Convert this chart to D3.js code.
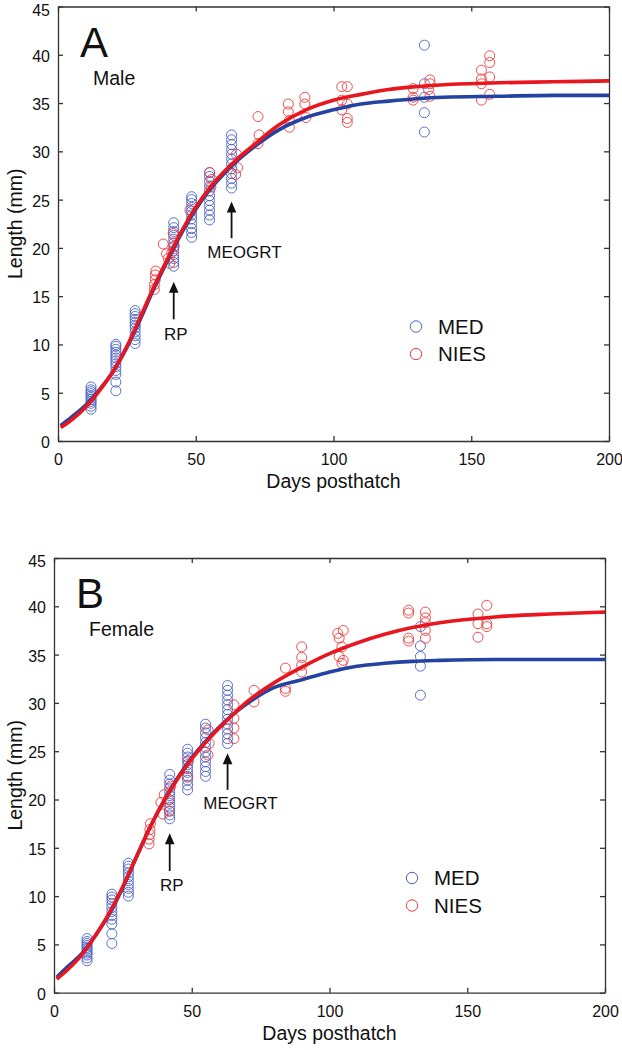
<!DOCTYPE html>
<html>
<head>
<meta charset="utf-8">
<script src="https://cdn.jsdelivr.net/npm/d3@7"></script>
<style>
  body { margin: 0; background: #fff; }
  svg { display: block; font-family: "Liberation Sans", Arial, sans-serif; }
  .axis text { font-size: 16px; fill: #111; }
  .axis path, .axis line { stroke: #333; stroke-width: 1.3; }
  .axis-title { font-size: 19.5px; fill: #111; }
  .annot { font-size: 17px; fill: #111; }
  .legend text { font-size: 20.5px; fill: #111; }
</style>
</head>
<body>
<svg></svg>
<script>
const WIDTH = 622, HEIGHT = 1050;

// fitted growth curves
const curveDays = [1, 5, 10, 15, 20, 25, 30, 35, 40, 45, 50, 55, 60, 65, 70, 80, 90, 100, 110, 120, 130, 140, 160, 180, 200];
const maleMedFit = [1.6, 2.5, 3.7, 5.3, 7.2, 9.7, 12.7, 15.9, 18.8, 21.6, 24.0, 26.0, 27.6, 29.0, 30.2, 32.2, 33.5, 34.3, 34.9, 35.2, 35.45, 35.6, 35.7, 35.8, 35.8];
const maleNiesFit = [1.4, 2.2, 3.5, 5.2, 7.2, 9.8, 12.9, 16.1, 19.0, 21.8, 24.2, 26.2, 27.8, 29.2, 30.4, 32.7, 34.3, 35.3, 35.9, 36.4, 36.7, 36.9, 37.1, 37.2, 37.3];
const femaleMedFit = [1.6, 2.7, 4.0, 5.9, 8.1, 10.9, 14.1, 17.2, 19.9, 22.3, 24.3, 26.0, 27.5, 28.8, 29.9, 31.6, 32.4, 33.2, 33.8, 34.1, 34.3, 34.4, 34.5, 34.5, 34.5];
const femaleNiesFit = [1.4, 2.4, 3.9, 5.9, 8.2, 11.0, 14.1, 17.2, 19.9, 22.2, 24.2, 25.9, 27.4, 28.8, 30.1, 32.1, 33.7, 35.1, 36.2, 37.1, 37.8, 38.3, 38.9, 39.2, 39.4];

// individual measurements [day, length]
const maleMedPoints = [
  [12, 3.3], [12, 3.6], [12, 3.9], [12, 4.1], [12, 4.3], [12, 4.5], [12, 4.7], [12, 4.9], [12, 5.1], [12, 5.3], [12, 5.6],
  [21, 5.2], [21, 6.1], [21, 6.9], [21, 7.3], [21, 7.7], [21, 8.0], [21, 8.3], [21, 8.6], [21, 8.9], [21, 9.2], [21, 9.5], [21, 9.8], [21, 10.0],
  [28, 10.1], [28, 10.5], [28, 10.9], [28, 11.3], [28, 11.7], [28, 12.0], [28, 12.3], [28, 12.6], [28, 12.9], [28, 13.2], [28, 13.5],
  [42, 18.1], [42, 18.5], [42, 18.9], [42, 19.3], [42, 19.7], [42, 20.1], [42, 20.5], [42, 20.9], [42, 21.3], [42, 21.7], [42, 22.1], [42, 22.6],
  [48.5, 21.1], [48.5, 21.6], [48.5, 22.0], [48.5, 22.5], [48.5, 23.0], [48.5, 23.4], [48.5, 23.8], [48.5, 24.2], [48.5, 24.6], [48.5, 25.0], [48.5, 25.3],
  [55, 22.9], [55, 23.4], [55, 23.9], [55, 24.4], [55, 24.9], [55, 25.4], [55, 25.9], [55, 26.4], [55, 26.9], [55, 27.4], [55, 27.8],
  [63, 26.2], [63, 26.7], [63, 27.2], [63, 27.7], [63, 28.2], [63, 28.7], [63, 29.2], [63, 29.7], [63, 30.2], [63, 30.7], [63, 31.2], [63, 31.7],
  [133, 41.0], [133, 37.0], [133, 35.6], [133, 34.0], [133, 32.0]
];
const maleNiesPoints = [
  [35.0, 15.7], [35.0, 16.2], [35.3, 16.7], [35.3, 17.2], [35.5, 17.6],
  [38.2, 20.4], [39.4, 19.4], [40.6, 18.4], [41.8, 21.5], [41.3, 19.5], [40.0, 18.9], [42.2, 20.2],
  [47.9, 23.9], [55.1, 27.8], [55.8, 27.1], [55.5, 26.3],
  [64.8, 29.7], [65.2, 28.3], [64.5, 27.6],
  [72.6, 33.6], [73.0, 31.7], [72.6, 30.8],
  [83.6, 34.9], [83.6, 34.1], [84.0, 33.2], [84.0, 32.5],
  [89.6, 35.6], [89.6, 34.9], [90.0, 33.5],
  [103.0, 36.7], [105.0, 36.7], [103.0, 35.3], [105.0, 34.9], [103.0, 34.3], [105.0, 33.4], [105.0, 33.0],
  [128.9, 36.5], [128.9, 35.6], [128.9, 35.3],
  [135.0, 37.4], [135.0, 37.0], [135.0, 35.7], [134.5, 36.4],
  [153.7, 38.4], [153.7, 37.5], [153.7, 37.0], [153.7, 35.3],
  [156.7, 39.9], [156.7, 39.2], [156.7, 37.7], [156.7, 35.9]
];
const femaleMedPoints = [
  [12, 3.3], [12, 3.6], [12, 3.9], [12, 4.1], [12, 4.3], [12, 4.5], [12, 4.7], [12, 4.9], [12, 5.1], [12, 5.3], [12, 5.6],
  [21, 5.1], [21, 6.1], [21, 7.1], [21, 7.6], [21, 8.0], [21, 8.4], [21, 8.8], [21, 9.2], [21, 9.6], [21, 9.9], [21, 10.2],
  [27, 10.0], [27, 10.4], [27, 10.8], [27, 11.2], [27, 11.6], [27, 12.0], [27, 12.4], [27, 12.8], [27, 13.1], [27, 13.4],
  [42, 18.0], [42, 18.4], [42, 18.8], [42, 19.2], [42, 19.6], [42, 20.0], [42, 20.4], [42, 20.8], [42, 21.2], [42, 21.6], [42, 22.0], [42, 22.6],
  [48.5, 21.0], [48.5, 21.5], [48.5, 22.0], [48.5, 22.4], [48.5, 22.8], [48.5, 23.2], [48.5, 23.6], [48.5, 24.0], [48.5, 24.4], [48.5, 24.8], [48.5, 25.2],
  [55, 22.4], [55, 22.9], [55, 23.4], [55, 23.9], [55, 24.4], [55, 24.9], [55, 25.4], [55, 25.9], [55, 26.4], [55, 26.9], [55, 27.4], [55, 27.8],
  [63, 25.8], [63, 26.3], [63, 26.8], [63, 27.3], [63, 27.8], [63, 28.3], [63, 28.8], [63, 29.3], [63, 29.8], [63, 30.3], [63, 30.8], [63, 31.3], [63, 31.8],
  [133, 37.9], [133, 35.9], [133, 34.8], [133, 33.8], [133, 30.8]
];
const femaleNiesPoints = [
  [34.5, 15.4], [34.5, 15.9], [34.8, 16.4], [34.8, 16.9], [35.0, 17.5],
  [40.0, 20.5], [38.8, 19.7], [42.4, 21.4], [41.8, 18.8], [41.5, 20.0], [39.5, 18.5],
  [48.8, 24.0], [48.5, 22.3],
  [55.9, 27.2], [55.9, 24.6], [56.3, 25.8],
  [65.3, 29.8], [65.3, 28.4], [65.3, 27.4], [65.3, 26.3],
  [72.6, 31.3], [72.6, 30.1],
  [84.0, 33.6], [84.0, 31.5], [84.0, 31.2],
  [89.9, 35.8], [89.9, 34.7], [89.9, 33.9], [89.9, 33.2],
  [105.0, 37.5], [103.0, 37.2], [103.5, 36.7], [104.5, 35.8], [103.5, 34.8], [105.0, 34.4], [104.5, 34.1],
  [128.7, 39.6], [128.7, 39.3], [128.7, 36.7], [128.7, 36.4],
  [134.8, 39.4], [134.8, 38.8], [134.8, 38.3], [134.8, 37.5], [134.8, 36.7],
  [153.9, 39.2], [153.9, 38.2], [153.9, 36.8], [157.1, 40.1], [157.1, 38.2], [157.1, 37.9]
];

const xTicks = [0, 50, 100, 150, 200];
const yTicks = [0, 5, 10, 15, 20, 25, 30, 35, 40, 45];
const seriesNames = ["MED", "NIES"];
// arrows: [label, day, tip length, tail length, label day, label length]
const annotations = [
  ["RP", 42, 16.5, 12.6, 42.8, 10.5],
  ["MEOGRT", 63, 24.8, 21.0, 67.7, 19.0]
];

const COLORS = {
  medLine: "#2443a0",
  niesLine: "#e8161e",
  medDot: "#4a62c4",
  niesDot: "#ef3b3b"
};

const svg = d3.select("svg").attr("width", WIDTH).attr("height", HEIGHT);

const panels = [
  { letter: "A", sex: "Male", left: 58, right: 609, top: 6.5, bottom: 441,
    med: maleMedFit, nies: maleNiesFit, medPts: maleMedPoints, niesPts: maleNiesPoints },
  { letter: "B", sex: "Female", left: 54, right: 605, top: 558, bottom: 992.7,
    med: femaleMedFit, nies: femaleNiesFit, medPts: femaleMedPoints, niesPts: femaleNiesPoints }
];

const drawPanel = p => {
  const x = d3.scaleLinear().domain([0, 200]).range([p.left, p.right]);
  const y = d3.scaleLinear().domain([0, 45]).range([p.bottom, p.top]);
  const g = svg.append("g");

  // frame with inward ticks on all sides
  g.append("g")
    .attr("class", "axis")
    .attr("transform", `translate(0,${p.bottom})`)
    .call(d3.axisBottom(x).tickValues(xTicks).tickSize(-5).tickSizeOuter(0).tickPadding(12.5));
  g.append("g")
    .attr("class", "axis")
    .attr("transform", `translate(0,${p.top})`)
    .call(d3.axisTop(x).tickValues(xTicks).tickSize(-5).tickSizeOuter(0).tickFormat(""));
  g.append("g")
    .attr("class", "axis")
    .attr("transform", `translate(${p.left},0)`)
    .call(d3.axisLeft(y).tickValues(yTicks).tickSize(-5).tickSizeOuter(0).tickPadding(8))
    .selectAll("text")
    .attr("dy", d => (d === 45 ? "0.55em" : "0.4em"));
  g.append("g")
    .attr("class", "axis")
    .attr("transform", `translate(${p.right},0)`)
    .call(d3.axisRight(y).tickValues(yTicks).tickSize(-5).tickSizeOuter(0).tickFormat(""));

  // axis titles
  g.append("text")
    .attr("class", "axis-title")
    .attr("x", (p.left + p.right) / 2)
    .attr("y", p.bottom + 47)
    .attr("text-anchor", "middle")
    .text("Days posthatch");
  g.append("text")
    .attr("class", "axis-title")
    .attr("transform", `translate(22,${(p.top + p.bottom) / 2}) rotate(-90)`)
    .attr("text-anchor", "middle")
    .text("Length (mm)");

  // scatter
  const dots = (pts, color) =>
    g.append("g")
      .selectAll("circle")
      .data(pts)
      .enter()
      .append("circle")
      .attr("cx", d => x(d[0]))
      .attr("cy", d => y(d[1]))
      .attr("r", 5)
      .attr("fill", "none")
      .attr("stroke", color)
      .attr("stroke-width", 0.9);
  dots(p.medPts, COLORS.medDot);
  dots(p.niesPts, COLORS.niesDot);

  // fitted curves
  const line = d3.line()
    .x((d, i) => x(curveDays[i]))
    .y(d => y(d))
    .curve(d3.curveMonotoneX);
  g.append("path")
    .attr("d", line(p.med))
    .attr("fill", "none")
    .attr("stroke", COLORS.medLine)
    .attr("stroke-width", 3.6);
  g.append("path")
    .attr("d", line(p.nies))
    .attr("fill", "none")
    .attr("stroke", COLORS.niesLine)
    .attr("stroke-width", 3.6);

  // arrows and labels
  annotations.forEach(([label, day, tip, tail, lday, lval]) => {
    const ax = x(day), ty = y(tip), by = y(tail);
    g.append("line")
      .attr("x1", ax).attr("x2", ax)
      .attr("y1", by).attr("y2", ty + 8)
      .attr("stroke", "#111")
      .attr("stroke-width", 1.8);
    g.append("path")
      .attr("d", `M${ax},${ty} L${ax - 4.8},${ty + 11} L${ax + 4.8},${ty + 11} Z`)
      .attr("fill", "#111");
    g.append("text")
      .attr("class", "annot")
      .attr("x", x(lday))
      .attr("y", y(lval))
      .attr("text-anchor", "middle")
      .text(label);
  });

  // panel letter and sex
  g.append("text")
    .attr("x", p.left + 22)
    .attr("y", p.top + 50)
    .style("font-size", "42px")
    .attr("fill", "#111")
    .text(p.letter);
  g.append("text")
    .attr("x", p.left + 35)
    .attr("y", p.top + 78)
    .style("font-size", "19.5px")
    .attr("fill", "#111")
    .text(p.sex);

  // legend
  const legend = g.append("g").attr("class", "legend");
  const colors = [COLORS.medDot, COLORS.niesDot];
  seriesNames.forEach((name, i) => {
    const ly = p.top + 320 + i * 27.5;
    legend.append("circle")
      .attr("cx", p.left + 358)
      .attr("cy", ly)
      .attr("r", 5.7)
      .attr("fill", "none")
      .attr("stroke", colors[i])
      .attr("stroke-width", 1);
    legend.append("text")
      .attr("x", p.left + 380)
      .attr("y", ly)
      .attr("dy", "0.36em")
      .text(name);
  });
};

panels.forEach(drawPanel);
</script>
</body>
</html>
